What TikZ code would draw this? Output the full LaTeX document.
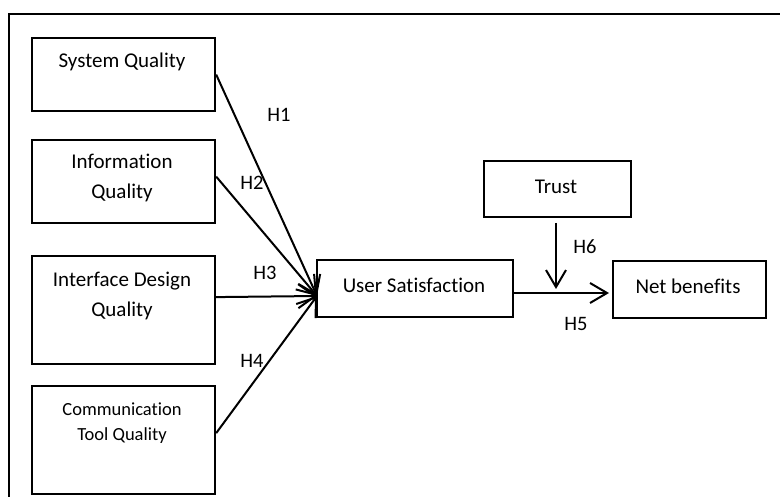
\documentclass[tikz,border=0pt]{standalone}
\usepackage{fontspec}
\setmainfont{Carlito}[Ligatures=NoCommon]
\usetikzlibrary{arrows.meta}
\begin{document}
\begin{tikzpicture}[x=1pt,y=-1pt,
  box/.style={draw,line width=2.2pt,inner sep=0pt,anchor=north west},
  txt/.style={font=\fontsize{21}{29.5}\selectfont,align=center,inner sep=0pt},
  small/.style={font=\fontsize{18.5}{25}\selectfont,align=center,inner sep=0pt},
  hl/.style={font=\fontsize{20.5}{23}\selectfont,inner sep=0pt},
  arr/.style={line width=2pt,-{Straight Barb[length=17pt,width=24pt,line width=2pt]}},
  arrs/.style={line width=2pt,-{Straight Barb[length=17pt,width=20pt,line width=2pt]}}]
\useasboundingbox (0,0) rectangle (780,497);
\fill[white] (0,0) rectangle (780,497);
\draw[line width=2.4pt] (9,520) -- (9,14) -- (800,14);
% boxes
\node[box,minimum width=183pt,minimum height=73pt] (sq) at (31,37) {};
\node[box,minimum width=183pt,minimum height=83pt] (iq) at (31,139) {};
\node[box,minimum width=183pt,minimum height=108pt] (id) at (31,255) {};
\node[box,minimum width=183pt,minimum height=108pt] (ct) at (31,385) {};
\node[box,minimum width=196pt,minimum height=57pt] (us) at (316,259) {};
\node[box,minimum width=147pt,minimum height=56pt] (tr) at (483,160) {};
\node[box,minimum width=153pt,minimum height=57pt] (nb) at (612,260) {};
% texts
\node[txt] (tsq) at (122,62) {System Quality};
\node[txt] (tiq) at (122,178) {Information\\Quality};
\node[txt] (tid) at (122,296) {Interface Design\\Quality};
\node[small] (tct) at (122,423) {Communication\\Tool Quality};
\node[txt] (tus) at (414,285) {User Satisfaction};
\node[txt] (ttr) at (556,187) {Trust};
\node[txt] (tnb) at (688,286) {Net benefits};
% connectors
\coordinate (hub) at (317,296);
\draw[arr] (sq.east) -- (hub);
\draw[arr] ([yshift=5pt]iq.east) -- (hub);
\draw[arr] ([yshift=13pt]id.east) -- (hub);
\draw[arr] ([yshift=7pt]ct.east) -- (hub);
\coordinate (h5t) at (609,293);
\coordinate (h6s) at (556,223);
\coordinate (h6t) at (556,289);
\draw[arrs] (us.east |- h5t) -- (h5t);
\draw[arrs] (h6s) -- (h6t);
% labels
\node[hl] (l1) at (279,115) {H1};
\node[hl] (l2) at (252,183) {H2};
\node[hl] (l3) at (265,273) {H3};
\node[hl] (l4) at (252,361) {H4};
\node[hl] (l5) at (576,324) {H5};
\node[hl] (l6) at (585,247) {H6};
\end{tikzpicture}
\end{document}
